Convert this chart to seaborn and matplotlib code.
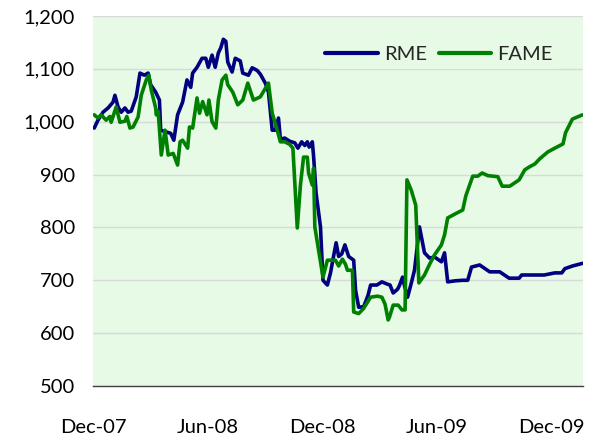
import pandas as pd
import numpy as np
import seaborn as sns
import matplotlib.pyplot as plt
import matplotlib.dates as mdates
from matplotlib.ticker import FuncFormatter

# RME series (weekly-ish prices)
rme_dates = [
    "2007-12-03", "2007-12-09", "2007-12-17", "2007-12-25", "2008-01-02", "2008-01-05",
    "2008-01-10", "2008-01-15", "2008-01-21", "2008-01-26", "2008-01-31", "2008-02-08",
    "2008-02-14", "2008-02-21", "2008-02-27", "2008-03-02", "2008-03-10", "2008-03-16",
    "2008-03-18", "2008-03-26", "2008-04-03", "2008-04-08", "2008-04-14", "2008-04-22",
    "2008-04-29", "2008-05-05", "2008-05-08", "2008-05-15", "2008-05-23", "2008-05-29",
    "2008-06-02", "2008-06-08", "2008-06-13", "2008-06-18", "2008-06-22", "2008-06-26",
    "2008-06-30", "2008-07-03", "2008-07-10", "2008-07-15", "2008-07-23", "2008-07-27",
    "2008-08-05", "2008-08-11", "2008-08-19", "2008-08-24", "2008-09-01", "2008-09-06",
    "2008-09-12", "2008-09-17", "2008-09-22", "2008-09-25", "2008-10-02", "2008-10-10",
    "2008-10-18", "2008-10-23", "2008-10-29", "2008-11-03", "2008-11-07", "2008-11-10",
    "2008-11-15", "2008-11-17", "2008-11-21", "2008-11-28", "2008-12-02", "2008-12-09",
    "2008-12-14", "2008-12-18", "2008-12-23", "2008-12-27", "2009-01-01", "2009-01-06",
    "2009-01-12", "2009-01-20", "2009-01-23", "2009-01-28", "2009-02-05", "2009-02-12",
    "2009-02-16", "2009-02-26", "2009-03-06", "2009-03-14", "2009-03-19", "2009-03-24",
    "2009-03-31", "2009-04-03", "2009-04-08", "2009-04-11", "2009-04-16", "2009-04-22",
    "2009-04-27", "2009-05-02", "2009-05-05", "2009-05-13", "2009-05-21", "2009-05-29",
    "2009-06-09", "2009-06-14", "2009-06-19", "2009-07-01", "2009-07-13", "2009-07-21",
    "2009-07-27", "2009-08-09", "2009-08-25", "2009-09-10", "2009-09-25", "2009-10-11",
    "2009-10-15", "2009-11-20", "2009-12-07", "2009-12-18", "2009-12-23", "2010-01-04",
    "2010-01-20",
]
rme_values = [
    988, 1003, 1018, 1026, 1037, 1050,
    1028, 1018, 1026, 1018, 1020, 1047,
    1092, 1088, 1092, 1070, 1056, 1041,
    984, 981, 978, 965, 1013, 1037,
    1079, 1065, 1092, 1103, 1120, 1120,
    1103, 1126, 1103, 1130, 1140, 1156,
    1152, 1113, 1094, 1120, 1115, 1092,
    1088, 1102, 1097, 1090, 1073, 1056,
    984, 984, 1007, 967, 969, 963,
    960, 950, 962, 955, 962, 952,
    962, 935, 865, 801, 700, 691,
    714, 740, 771, 745, 750, 767,
    745, 738, 681, 649, 650, 672,
    691, 691, 697, 693, 691, 676,
    683, 690, 706, 690, 668, 695,
    719, 770, 801, 752, 742, 744,
    735, 752, 697, 699, 700, 700,
    725, 729, 716, 716, 704, 704,
    710, 710, 714, 714, 722, 727,
    732,
]

# FAME series
fame_dates = [
    "2007-12-03", "2007-12-09", "2007-12-14", "2007-12-22", "2007-12-28", "2007-12-30",
    "2008-01-07", "2008-01-13", "2008-01-21", "2008-01-24", "2008-01-29", "2008-02-03",
    "2008-02-11", "2008-02-16", "2008-02-24", "2008-02-28", "2008-03-03", "2008-03-10",
    "2008-03-11", "2008-03-14", "2008-03-19", "2008-03-25", "2008-03-30", "2008-04-07",
    "2008-04-14", "2008-04-18", "2008-04-22", "2008-04-30", "2008-05-03", "2008-05-08",
    "2008-05-15", "2008-05-19", "2008-05-24", "2008-05-31", "2008-06-03", "2008-06-08",
    "2008-06-14", "2008-06-18", "2008-06-24", "2008-06-30", "2008-07-03", "2008-07-11",
    "2008-07-19", "2008-07-27", "2008-08-04", "2008-08-13", "2008-08-24", "2008-09-06",
    "2008-09-12", "2008-09-20", "2008-09-25", "2008-10-02", "2008-10-10", "2008-10-15",
    "2008-10-22", "2008-10-27", "2008-11-01", "2008-11-07", "2008-11-09", "2008-11-15",
    "2008-11-17", "2008-11-19", "2008-11-25", "2008-12-02", "2008-12-09", "2008-12-22",
    "2008-12-27", "2009-01-02", "2009-01-07", "2009-01-10", "2009-01-18", "2009-01-20",
    "2009-01-28", "2009-02-05", "2009-02-16", "2009-02-27", "2009-03-06", "2009-03-11",
    "2009-03-16", "2009-03-18", "2009-03-24", "2009-04-01", "2009-04-07", "2009-04-12",
    "2009-04-15", "2009-04-22", "2009-04-29", "2009-05-04", "2009-05-13", "2009-05-21",
    "2009-05-29", "2009-06-09", "2009-06-14", "2009-06-19", "2009-06-30", "2009-07-13",
    "2009-07-18", "2009-07-29", "2009-08-06", "2009-08-13", "2009-08-22", "2009-09-07",
    "2009-09-14", "2009-09-26", "2009-10-11", "2009-10-20", "2009-10-28", "2009-11-05",
    "2009-11-13", "2009-11-26", "2009-12-07", "2009-12-20", "2009-12-24", "2010-01-04",
    "2010-01-20",
]
fame_values = [
    1013, 1007, 1013, 1003, 1010, 999,
    1028, 999, 1001, 1010, 988, 990,
    1009, 1050, 1079, 1088, 1060, 1026,
    1013, 1020, 937, 984, 937, 940,
    918, 962, 965, 950, 990, 988,
    1045, 1016, 1038, 1013, 1041, 1000,
    988, 1041, 1079, 1088, 1070, 1056,
    1032, 1041, 1073, 1041, 1047, 1073,
    1016, 984, 962, 962, 957, 950,
    799, 880, 933, 933, 903, 880,
    912, 801, 757, 706, 738, 738,
    727, 740, 730, 719, 719, 640,
    637, 647, 668, 670, 668, 655,
    625, 630, 653, 653, 644, 644,
    890, 870, 842, 695, 710, 730,
    748, 767, 786, 818, 825, 833,
    860, 897, 897, 903, 898, 896,
    878, 878, 890, 909, 915, 920,
    930, 943, 950, 958, 979, 1005,
    1013,
]

tick_dates = ["2007-12-01", "2008-06-01", "2008-12-01", "2009-06-01", "2009-12-01"]
tick_labels = ["Dec-07", "Jun-08", "Dec-08", "Jun-09", "Dec-09"]

df = pd.concat([
    pd.DataFrame({"date": pd.to_datetime(rme_dates), "price": rme_values, "series": "RME"}),
    pd.DataFrame({"date": pd.to_datetime(fame_dates), "price": fame_values, "series": "FAME"}),
])

bg = "#E6FAE6"
sns.set_style("white", {"axes.facecolor": bg})
plt.rcParams["font.family"] = ["Lato", "DejaVu Sans"]

fig = plt.figure(figsize=(5.98, 4.42), dpi=100)
ax = fig.add_axes([0.1555, 0.1267, 0.8195, 0.8371])

sns.lineplot(data=df, x="date", y="price", hue="series", sort=False,
             palette={"RME": "#000080", "FAME": "#008000"},
             linewidth=2.6, ax=ax, estimator=None)

ax.set_ylim(500, 1200)
ax.set_yticks(range(500, 1201, 100))
ax.yaxis.set_major_formatter(FuncFormatter(lambda v, p: f"{int(v):,}"))
ax.set_xlim(pd.Timestamp("2007-12-01"), pd.Timestamp("2010-01-21"))
ax.set_xticks(pd.to_datetime(tick_dates))
ax.set_xticklabels(tick_labels)
ax.grid(axis="y", color="#D9D9D9", linewidth=1)
ax.set_axisbelow(True)

for s in ["top", "right", "left"]:
    ax.spines[s].set_visible(False)
ax.spines["bottom"].set_color("#404040")
ax.spines["bottom"].set_linewidth(1)
ax.tick_params(axis="x", direction="out", length=6, width=1, color="#404040",
               pad=18, labelsize=14.5, labelcolor="black")
ax.tick_params(axis="y", length=0, pad=13, labelsize=14.5, labelcolor="black")
ax.set_xlabel("")
ax.set_ylabel("")

leg = ax.legend(loc="center", bbox_to_anchor=(0.706, 0.895), ncol=2,
                frameon=True, facecolor=bg, edgecolor="none", framealpha=1,
                fontsize=14.5, handlelength=2.6, handletextpad=0.3,
                columnspacing=0.6, borderpad=0.3)
for line in leg.get_lines():
    line.set_linewidth(3)

fig.savefig("out.png", dpi=100)
